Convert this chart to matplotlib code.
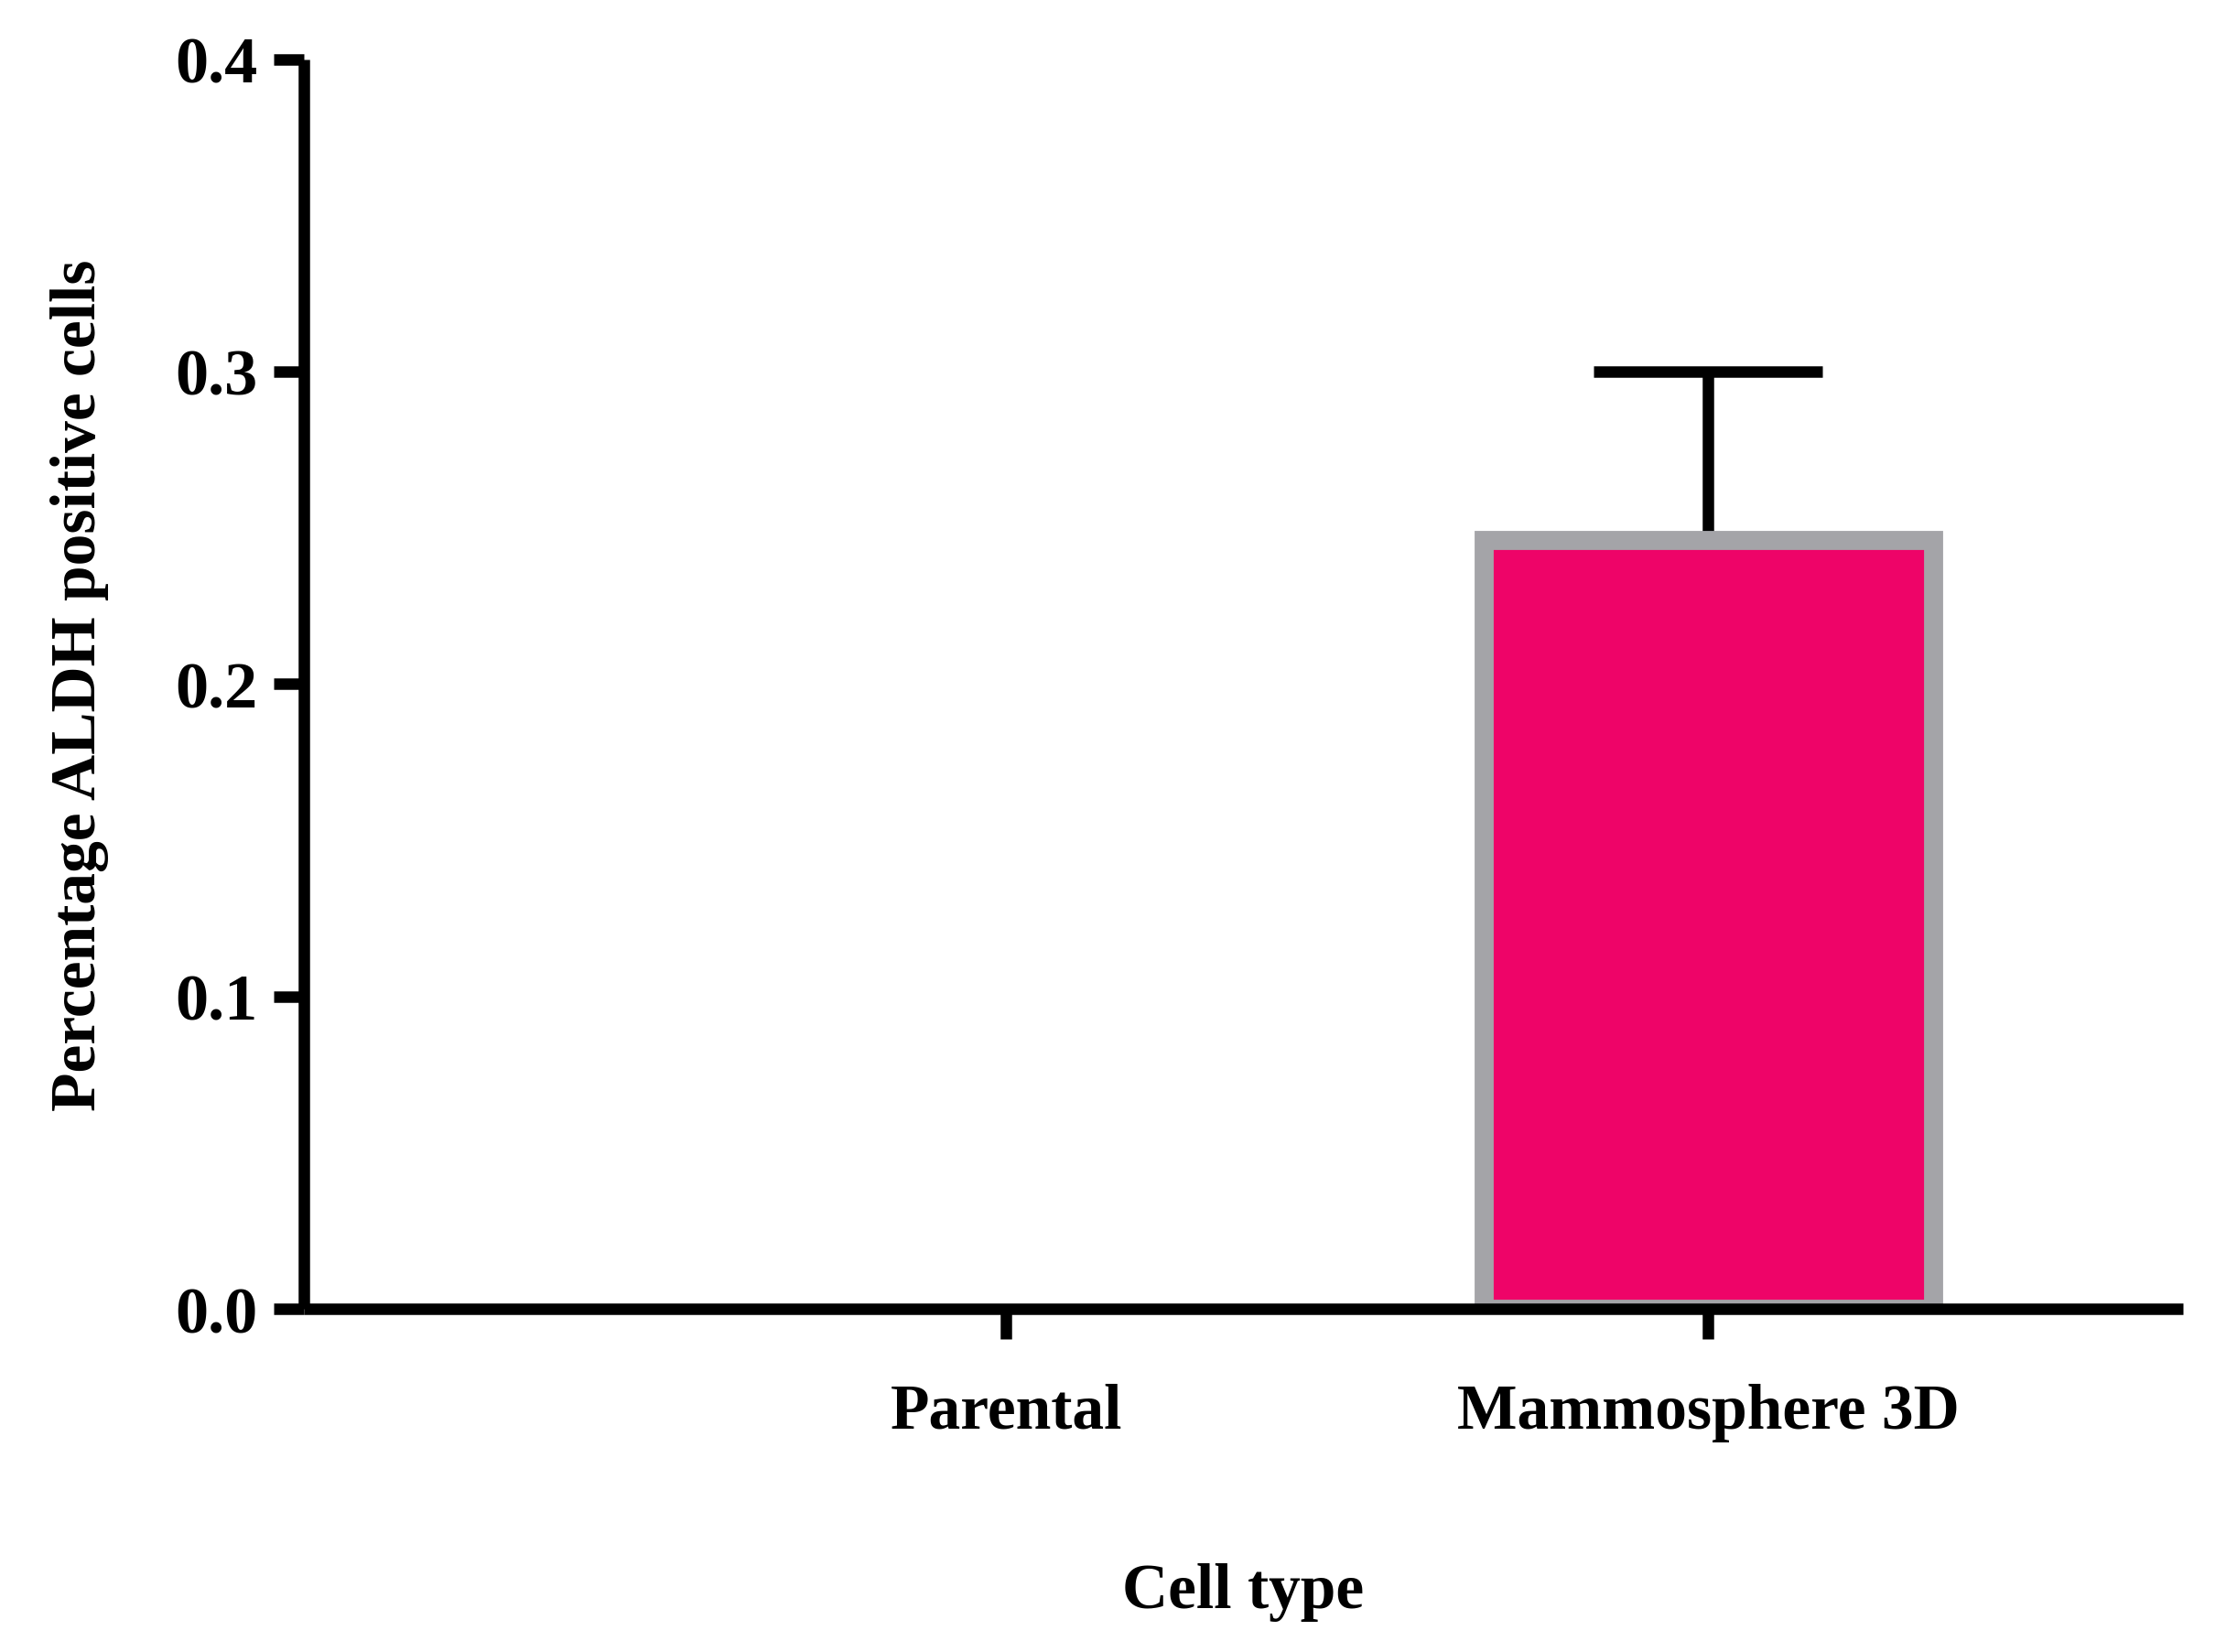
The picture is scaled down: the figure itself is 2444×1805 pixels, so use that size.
import matplotlib.pyplot as plt
import numpy as np

# Data
cell_types = ["Parental", "Mammosphere 3D"]
aldh_mean = [0.0, 0.246]
aldh_sem = [0.0, 0.054]
y_ticks = [0.0, 0.1, 0.2, 0.3, 0.4]
y_tick_labels = ["0.0", "0.1", "0.2", "0.3", "0.4"]

plt.rcParams['font.family'] = ['Liberation Serif', 'DejaVu Serif']
plt.rcParams['font.weight'] = 'bold'

fig = plt.figure(figsize=(24.44, 18.06), dpi=100)
ax = fig.add_axes([0.1358, 0.2076, 0.84, 0.7561])

x = np.arange(1, len(cell_types) + 1)
# empty bars get no outline (nothing is drawn for them in the original)
edge_w = [15 if v > 0 else 0 for v in aldh_mean]
ax.bar(x, aldh_mean, width=0.64, color='#ee0468', edgecolor='#a4a4a8',
       linewidth=edge_w, zorder=2)

# only upward error bars, as in the original
for xi, m, e in zip(x, aldh_mean, aldh_sem):
    if e > 0:
        ax.errorbar(xi, m, yerr=[[0], [e]], fmt='none', ecolor='black',
                    elinewidth=9, capsize=90, capthick=9, zorder=1)

ax.set_xlim(0, 2.676)
ax.set_ylim(0, 0.4)
ax.set_xticks(x)
ax.set_xticklabels(cell_types, fontsize=50, fontweight='bold')
ax.set_yticks(y_ticks)
ax.set_yticklabels(y_tick_labels, fontsize=52, fontweight='bold')

for side in ['top', 'right']:
    ax.spines[side].set_visible(False)
for side in ['left', 'bottom']:
    ax.spines[side].set_linewidth(9)
    ax.spines[side].set_capstyle('butt')

ax.tick_params(axis='x', length=24, width=9, pad=34)
ax.tick_params(axis='y', length=24, width=9, pad=12)

ax.set_xlabel("Cell type", fontsize=50, fontweight='bold', labelpad=95)
ax.set_ylabel("Percentage ALDH positive cells", fontsize=50,
              fontweight='bold', labelpad=52)

fig.savefig("out.png", dpi=100)
